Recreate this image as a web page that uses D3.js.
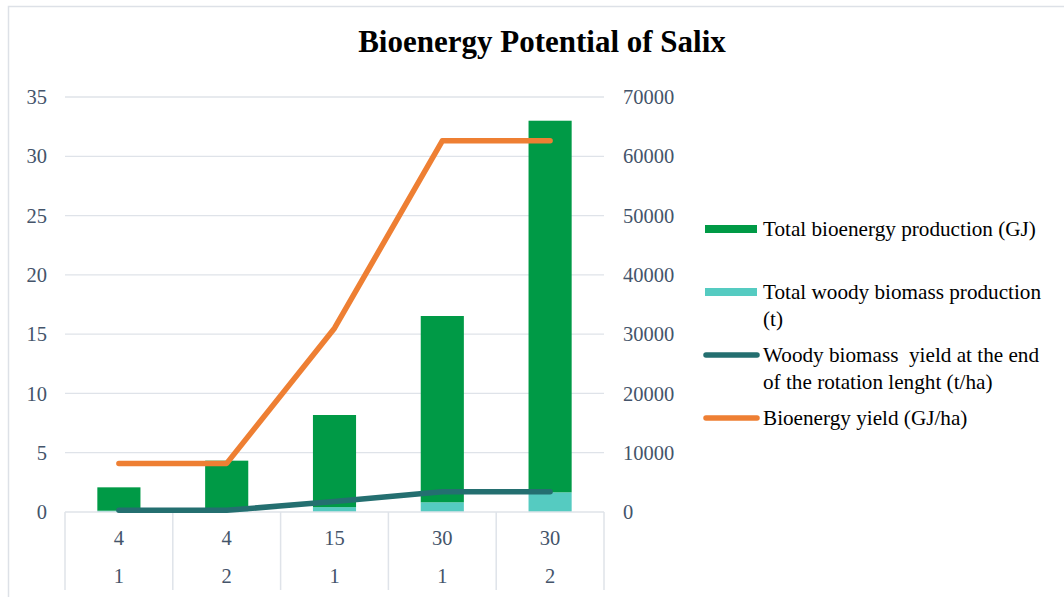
<!DOCTYPE html>
<html>
<head>
<meta charset="utf-8">
<script src="https://d3js.org/d3.v7.min.js"></script>
<style>
  html, body { margin: 0; padding: 0; background: #fff; }
  svg { display: block; }
  svg text { font-family: "Liberation Serif", "Times New Roman", serif; }
</style>
</head>
<body>
<svg id="chart"></svg>
<script>
// data
var rotationLength = ["4", "4", "15", "30", "30"];
var rotationNo = ["1", "2", "1", "1", "2"];
var woodyProduction = [0.11, 0.22, 0.41, 0.82, 1.66];        // left axis
var bioenergyProduction = [1.97, 4.11, 7.77, 15.71, 31.34];  // left axis, stacked on top
var woodyYield = [280, 280, 1760, 3420, 3420];              // right axis
var bioenergyYield = [8200, 8200, 31000, 62600, 62600];     // right axis
var leftTicks = [0, 5, 10, 15, 20, 25, 30, 35];
var rightTicks = [0, 10000, 20000, 30000, 40000, 50000, 60000, 70000];

var width = 1064, height = 597;
var textColor = "#44546a", gridColor = "#dfe3e9";
var colors = { green: "#009a46", cyan: "#55cbc1", teal: "#246f70", orange: "#ee7f33" };

var svg = d3.select("#chart").attr("width", width).attr("height", height);

// outer border
svg.append("rect")
  .attr("x", 8.5).attr("y", 6.5)
  .attr("width", width + 10).attr("height", height + 10)
  .attr("fill", "none").attr("stroke", "#dde1e7").attr("stroke-width", 1.5);

svg.append("text")
  .attr("x", 542).attr("y", 52)
  .attr("text-anchor", "middle")
  .attr("font-size", 31).attr("font-weight", "bold").attr("fill", "#000")
  .text("Bioenergy Potential of Salix");

var idx = d3.range(rotationLength.length);
var x = d3.scaleBand().domain(idx).range([65, 604]);
var yL = d3.scaleLinear().domain([0, 35]).range([512, 97]);
var yR = d3.scaleLinear().domain([0, 70000]).range([512, 97]);
var barW = x.bandwidth() * 0.4;

// gridlines
svg.append("g").selectAll("line").data(leftTicks.slice(1)).enter().append("line")
  .attr("x1", 65).attr("x2", 604)
  .attr("y1", function (d) { return yL(d); }).attr("y2", function (d) { return yL(d); })
  .attr("stroke", gridColor).attr("stroke-width", 1.3);

// left axis labels
svg.append("g").selectAll("text").data(leftTicks).enter().append("text")
  .attr("x", 47).attr("y", function (d) { return yL(d); })
  .attr("dy", "0.35em").attr("text-anchor", "end")
  .attr("font-size", 20.5).attr("fill", textColor)
  .text(function (d) { return d; });

// right axis labels
svg.append("g").selectAll("text").data(rightTicks).enter().append("text")
  .attr("x", 623).attr("y", function (d) { return yR(d); })
  .attr("dy", "0.35em").attr("text-anchor", "start")
  .attr("font-size", 20.5).attr("fill", textColor)
  .text(function (d) { return d; });

// stacked bars
var rows = idx.map(function (i) { return { woody: woodyProduction[i], bio: bioenergyProduction[i] }; });
var stack = d3.stack().keys(["woody", "bio"])(rows);
var barColor = { woody: colors.cyan, bio: colors.green };

svg.append("g").selectAll("g").data(stack).enter().append("g")
  .attr("fill", function (s) { return barColor[s.key]; })
  .selectAll("rect").data(function (s) { return s; }).enter().append("rect")
  .attr("x", function (d, i) { return x(i) + (x.bandwidth() - barW) / 2; })
  .attr("width", barW)
  .attr("y", function (d) { return yL(d[1]); })
  .attr("height", function (d) { return yL(d[0]) - yL(d[1]); });

// category axis (two levels)
var axisG = svg.append("g");
axisG.append("line")
  .attr("x1", 65).attr("x2", 604).attr("y1", 512).attr("y2", 512)
  .attr("stroke", gridColor).attr("stroke-width", 1.5);
axisG.selectAll("line.sep").data(d3.range(rotationLength.length + 1)).enter().append("line")
  .attr("class", "sep")
  .attr("x1", function (d) { return 65 + d * x.bandwidth(); })
  .attr("x2", function (d) { return 65 + d * x.bandwidth(); })
  .attr("y1", 512).attr("y2", 590)
  .attr("stroke", gridColor).attr("stroke-width", 1.5);
axisG.selectAll("text.lvl1").data(rotationLength).enter().append("text")
  .attr("x", function (d, i) { return x(i) + x.bandwidth() / 2; })
  .attr("y", 545).attr("text-anchor", "middle")
  .attr("font-size", 20.5).attr("fill", textColor)
  .text(function (d) { return d; });
axisG.selectAll("text.lvl2").data(rotationNo).enter().append("text")
  .attr("x", function (d, i) { return x(i) + x.bandwidth() / 2; })
  .attr("y", 583).attr("text-anchor", "middle")
  .attr("font-size", 20.5).attr("fill", textColor)
  .text(function (d) { return d; });

// lines
var line = d3.line()
  .x(function (d, i) { return x(i) + x.bandwidth() / 2; })
  .y(function (d) { return yR(d); });

[[woodyYield, colors.teal], [bioenergyYield, colors.orange]].forEach(function (s) {
  svg.append("path")
    .datum(s[0])
    .attr("d", line)
    .attr("fill", "none").attr("stroke", s[1]).attr("stroke-width", 5.5)
    .attr("stroke-linecap", "round").attr("stroke-linejoin", "round");
});

// legend
var legend = [
  { type: "rect", color: colors.green, y: 229, lines: ["Total bioenergy production (GJ)"] },
  { type: "rect", color: colors.cyan, y: 292, lines: ["Total woody biomass production", "(t)"] },
  { type: "line", color: colors.teal, y: 355, lines: ["Woody biomass  yield at the end", "of the rotation lenght (t/ha)"] },
  { type: "line", color: colors.orange, y: 418, lines: ["Bioenergy yield (GJ/ha)"] }
];
var lg = svg.append("g").selectAll("g").data(legend).enter().append("g");
lg.each(function (d) {
  var g = d3.select(this);
  if (d.type === "rect") {
    g.append("rect").attr("x", 705).attr("y", d.y - 4).attr("width", 52).attr("height", 8).attr("fill", d.color);
  } else {
    g.append("line").attr("x1", 706).attr("x2", 757).attr("y1", d.y).attr("y2", d.y)
      .attr("stroke", d.color).attr("stroke-width", 5.5).attr("stroke-linecap", "round");
  }
  var t = g.append("text").attr("x", 763).attr("y", d.y + 7)
    .attr("font-size", 21.2).attr("fill", "#000").style("white-space", "pre");
  d.lines.forEach(function (l, i) {
    t.append("tspan").attr("x", 763).attr("dy", i ? 27 : 0).text(l);
  });
});
</script>
</body>
</html>
